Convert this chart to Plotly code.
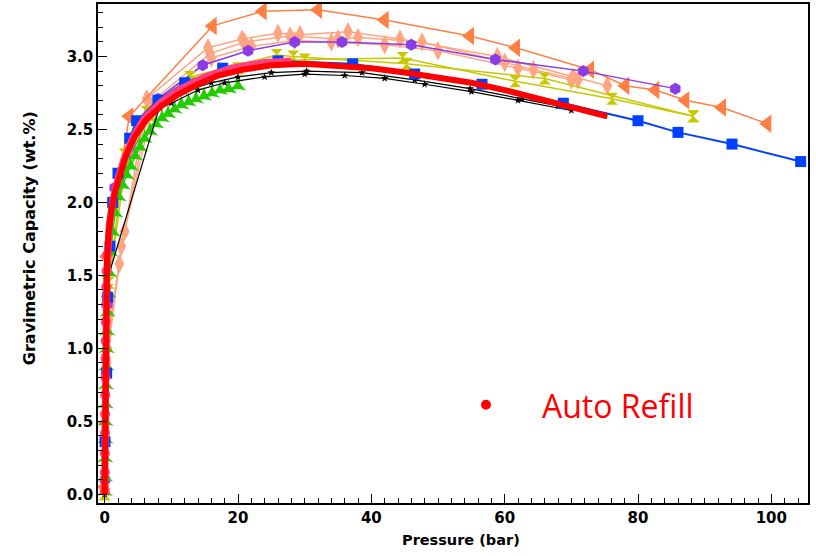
import plotly.graph_objects as go

# ---------------- data ----------------
orange_p = [0.02, 0.08, 0.3, 3.7, 16.2, 23.7, 32.0, 42.0, 54.8, 61.7, 72.8, 78.1, 82.6, 87.1, 92.6, 99.4]
orange_y = [0.05, 0.49, 1.63, 2.59, 3.21, 3.31, 3.32, 3.25, 3.14, 3.06, 2.91, 2.80, 2.77, 2.70, 2.65, 2.54]

salmon1_p = [0.05, 0.3, 2.2, 6.3, 15.5, 20.6, 26.0, 29.3, 36.5, 44.3, 58.9, 70.3, 75.4]
salmon1_y = [0.10, 0.90, 1.58, 2.71, 3.06, 3.12, 3.16, 3.15, 3.17, 3.12, 3.00, 2.86, 2.80]
salmon2_p = [0.05, 0.4, 2.5, 6.8, 15.8, 21.0, 27.8, 35.0, 38.0, 47.6, 60.0, 64.3, 71.0]
salmon2_y = [0.10, 1.00, 1.70, 2.68, 3.02, 3.10, 3.14, 3.12, 3.13, 3.10, 2.96, 2.91, 2.84]
salmon3_p = [0.05, 0.5, 3.0, 7.2, 16.0, 22.0, 28.5, 34.0, 42.0, 50.0, 62.0, 70.0]
salmon3_y = [0.10, 1.10, 1.80, 2.66, 2.99, 3.07, 3.11, 3.10, 3.08, 3.04, 2.92, 2.84]

purple_p = [0.05, 0.4, 1.5, 8.0, 14.7, 21.5, 28.5, 35.6, 46.0, 58.6, 71.8, 85.6]
purple_y = [0.10, 1.30, 2.10, 2.71, 2.94, 3.04, 3.10, 3.10, 3.08, 2.98, 2.90, 2.78]

yellow1_p = [0.0, 0.5, 3.0, 6.3, 12.8, 25.8, 28.3, 45.3, 66.0, 88.3]
yellow1_y = [0.0, 1.40, 2.33, 2.62, 2.86, 3.01, 3.00, 2.95, 2.85, 2.59]
yellow2_p = [0.0, 0.6, 3.3, 7.0, 13.5, 20.0, 30.0, 44.7, 61.6, 76.1, 88.3]
yellow2_y = [0.0, 1.45, 2.30, 2.60, 2.82, 2.92, 2.98, 2.99, 2.83, 2.71, 2.59]

green_p = [0.02, 0.05, 0.08, 0.10, 0.13, 0.16, 0.20, 0.25, 0.30, 0.37, 0.45, 0.55, 0.70, 0.90,
           1.2, 1.6, 2.1, 2.7, 3.3, 3.9, 4.6, 5.3, 6.0, 6.8, 7.7, 8.6, 9.5, 10.5, 11.5, 12.6,
           13.7, 14.9, 16.1, 17.3, 18.6, 20.0]
green_y = [0.02, 0.12, 0.25, 0.38, 0.50, 0.62, 0.75, 0.88, 1.00, 1.12, 1.25, 1.38, 1.52, 1.66,
           1.80, 1.93, 2.04, 2.12, 2.19, 2.25, 2.32, 2.38, 2.44, 2.49, 2.54, 2.58, 2.61, 2.64,
           2.67, 2.69, 2.71, 2.73, 2.75, 2.77, 2.78, 2.80]

black1_p = [0.0, 0.01, 0.02, 0.03, 0.04, 0.05, 0.06, 8.2, 12.0, 16.0, 20.0, 25.0, 30.3, 38.6,
            46.5, 54.8, 62.6, 68.0, 73.9]
black1_y = [0.0, 0.20, 0.45, 0.70, 0.95, 1.20, 1.42, 2.65, 2.76, 2.82, 2.86, 2.89, 2.90, 2.89,
            2.84, 2.78, 2.71, 2.66, 2.61]
black2_p = [8.2, 10.0, 14.0, 18.0, 24.0, 30.0, 36.0, 42.0, 48.0, 55.0, 62.0, 70.0]
black2_y = [2.65, 2.68, 2.77, 2.82, 2.86, 2.88, 2.87, 2.85, 2.81, 2.76, 2.70, 2.63]

blue_p = [0.05, 0.3, 0.45, 0.8, 1.2, 2.0, 3.75, 4.8, 8.0, 12.0, 17.7, 26.0, 37.2, 46.5, 56.6,
          68.8, 80.0, 86.0, 94.1, 104.4]
blue_y = [0.36, 0.83, 1.35, 1.70, 2.00, 2.20, 2.44, 2.56, 2.70, 2.82, 2.92, 2.97, 2.95, 2.88,
          2.81, 2.68, 2.56, 2.48, 2.40, 2.28]

pink_dot_p = [0.02, 0.03, 0.04, 0.05, 0.06, 0.08, 0.10, 0.12, 0.14, 0.17, 0.20, 0.24, 0.28, 0.33]
pink_dot_y = [0.02, 0.15, 0.28, 0.42, 0.55, 0.68, 0.80, 0.93, 1.05, 1.18, 1.30, 1.42, 1.53, 1.64]
pink_line_p = [0.0, 0.1, 0.3, 0.7, 1.3, 2.1, 3.0, 4.3, 6.0, 8.5, 11.5, 15.0, 19.0, 24.0, 28.0]
pink_line_y = [0.0, 0.80, 1.50, 1.85, 2.03, 2.18, 2.31, 2.45, 2.58, 2.69, 2.78, 2.86, 2.92, 2.96, 2.97]

red_p = [0.0, 0.02, 0.04, 0.06, 0.08, 0.10, 0.15, 0.22, 0.35, 0.6, 1.0, 1.6, 2.3, 3.2, 4.5,
         6.3, 8.5, 11.0, 14.0, 17.0, 20.7, 25.0, 30.0, 35.0, 40.0, 45.0, 50.0, 55.0, 60.0,
         65.0, 70.0, 75.4]
red_y = [0.0, 0.20, 0.40, 0.60, 0.80, 1.00, 1.20, 1.40, 1.60, 1.80, 1.95, 2.08, 2.20, 2.32,
         2.45, 2.57, 2.66, 2.74, 2.81, 2.87, 2.91, 2.94, 2.95, 2.94, 2.92, 2.89, 2.86, 2.82,
         2.77, 2.71, 2.65, 2.59]

x_ticks = [0, 20, 40, 60, 80, 100]
y_ticks = [0.0, 0.5, 1.0, 1.5, 2.0, 2.5, 3.0]
y_tick_text = ["0.0", "0.5", "1.0", "1.5", "2.0", "2.5", "3.0"]

# ---------------- colours ----------------
ORANGE = "#FF7F45"
SALMON = "#FFA582"
PURPLE = "#8A3CE6"
YELLOW = "#C8C800"
GREEN = "#22CC00"
BLACK = "#000000"
BLUE = "#0040FF"
PINK = "#FF3F80"
RED = "#FF0000"

fig = go.Figure()


def add(p, y, color, symbol, size, lw, mode="lines+markers"):
    fig.add_trace(go.Scatter(
        x=p, y=y, mode=mode,
        line=dict(color=color, width=lw),
        marker=dict(symbol=symbol, size=size, color=color, line=dict(width=0)),
        showlegend=False, hoverinfo="skip"))


add(salmon1_p, salmon1_y, SALMON, "diamond-tall", 14, 1.5)
add(salmon2_p, salmon2_y, SALMON, "diamond-tall", 14, 1.5)
add(salmon3_p, salmon3_y, SALMON, "diamond-tall", 14, 1.5)
add(orange_p, orange_y, ORANGE, "triangle-left", 16, 1.5)
add(purple_p, purple_y, PURPLE, "hexagon", 12, 1.5)
add(yellow1_p, yellow1_y, YELLOW, "hourglass", 12, 1.5)
add(yellow2_p, yellow2_y, YELLOW, "hourglass", 12, 1.5)
add(green_p, green_y, GREEN, "star-triangle-up", 12, 1.5)
add(black1_p, black1_y, BLACK, "star", 6, 1.2)
add(black2_p, black2_y, BLACK, "star", 6, 1.2)
add(blue_p, blue_y, BLUE, "square", 11, 2)
add(pink_line_p, pink_line_y, PINK, "circle", 1, 7, mode="lines")
add(pink_dot_p, pink_dot_y, PINK, "circle", 10, 1, mode="markers")
add(red_p, red_y, RED, "circle", 1, 6, mode="lines")

FONT = "DejaVu Sans"

fig.update_layout(
    width=816, height=556,
    margin=dict(l=98, r=8, t=2, b=53),
    paper_bgcolor="white", plot_bgcolor="white",
    xaxis=dict(
        range=[-1.0, 105.5], tickvals=x_ticks, ticks="inside", ticklen=9, tickwidth=1.2,
        tickcolor="black", showline=True, linecolor="black", linewidth=1.5, mirror=True,
        showgrid=False, zeroline=False,
        tickfont=dict(family=FONT, size=15, color="black", weight="bold"),
        minor=dict(dtick=2, ticks="inside", ticklen=5, tickcolor="black", tickwidth=1, showgrid=False),
    ),
    yaxis=dict(
        range=[-0.06, 3.36], tickvals=y_ticks, ticktext=y_tick_text, ticks="inside", ticklen=9,
        tickwidth=1.2, tickcolor="black", showline=True, linecolor="black", linewidth=1.5,
        mirror=True, showgrid=False, zeroline=False,
        tickfont=dict(family=FONT, size=15, color="black", weight="bold"),
        minor=dict(dtick=0.1, ticks="inside", ticklen=5, tickcolor="black", tickwidth=1, showgrid=False),
    ),
    annotations=[
        dict(text="Gravimetric Capacity (wt.%)", textangle=-90, xref="paper", yref="paper",
             x=-0.097, y=0.531, xanchor="center", yanchor="middle", showarrow=False,
             font=dict(family=FONT, size=16, color="black", weight="bold")),
        dict(text="Pressure (bar)", xref="paper", yref="paper", x=0.511, y=-0.074,
             xanchor="center", yanchor="middle", showarrow=False,
             font=dict(family=FONT, size=14.5, color="black", weight="bold")),
        dict(text="Auto Refill", xref="paper", yref="paper", x=0.732, y=0.195,
             xanchor="center", yanchor="middle", showarrow=False,
             font=dict(family="Open Sans", size=32, color=RED)),
    ],
    shapes=[
        dict(type="circle", xref="paper", yref="paper", x0=0.5395, x1=0.5535, y0=0.187, y1=0.207,
             fillcolor=RED, line=dict(width=0)),
    ],
)

fig.write_html("out.html", config={"displayModeBar": False},
               post_script="document.body.style.margin='0px';")
